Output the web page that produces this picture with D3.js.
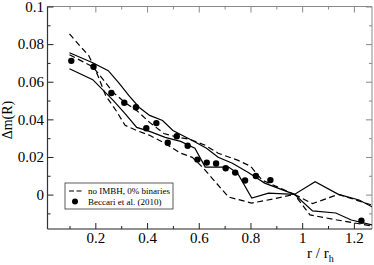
<!DOCTYPE html>
<html>
<head>
<meta charset="utf-8">
<script src="https://cdn.jsdelivr.net/npm/d3@7"></script>
<style>
  body { margin: 0; background: #fff; }
  svg text { font-family: "Liberation Serif", "DejaVu Serif", serif; fill: #000; }
</style>
</head>
<body>
<div id="chart"></div>
<script>
var svgWidth = 374;
var svgHeight = 265;

// Beccari et al. (2010) observed points
var obsR  = [0.107, 0.193, 0.262, 0.312, 0.357, 0.397, 0.436, 0.48, 0.515, 0.557,
             0.595, 0.631, 0.667, 0.704, 0.741, 0.779, 0.821, 0.877, 1.229];
var obsDm = [0.0711, 0.068, 0.054, 0.0488, 0.0464, 0.0353, 0.038, 0.0276, 0.031, 0.026,
             0.0186, 0.017, 0.0165, 0.014, 0.0117, 0.0075, 0.0099, 0.0077, -0.0139];

// solid model curves
var solidAR  = [0.10, 0.19, 0.25, 0.29, 0.33, 0.37, 0.41, 0.46, 0.50, 0.575,
                0.63, 0.675, 0.73, 0.79, 0.855, 0.97, 1.04, 1.13, 1.19, 1.27];
var solidADm = [0.0754, 0.0701, 0.0659, 0.0595, 0.0526, 0.0463, 0.0421, 0.0394, 0.0341, 0.0288,
                0.0246, 0.0198, 0.0167, 0.0119, 0.0061, 0.0001, -0.0087, -0.0098, -0.0135, -0.0161];

var solidBR  = [0.10, 0.19, 0.27, 0.315, 0.36, 0.41, 0.47, 0.53, 0.585, 0.625,
                0.715, 0.75, 0.805, 0.87, 0.97, 1.05, 1.14, 1.22, 1.27];
var solidBDm = [0.0669, 0.0611, 0.05, 0.0431, 0.0357, 0.0336, 0.0304, 0.0283, 0.0246, 0.0146,
                0.0146, 0.0114, -0.0019, 0.0008, 0.0001, 0.0068, 0.0001, -0.0029, -0.0065];

// dashed curves: no IMBH, 0% binaries
var dashAR  = [0.10, 0.14, 0.175, 0.21, 0.24, 0.28, 0.315, 0.36, 0.41, 0.47,
               0.53, 0.575, 0.615, 0.715, 0.805, 0.885, 0.97, 1.04, 1.14, 1.27];
var dashADm = [0.0854, 0.0791, 0.0738, 0.0632, 0.0526, 0.0447, 0.0368, 0.0341, 0.0315, 0.0272,
               0.022, 0.0198, 0.0145, -0.0013, -0.0045, -0.0024, 0.0001, -0.0048, 0.0001, -0.0056];

var dashBR  = [0.10, 0.19, 0.24, 0.27, 0.315, 0.36, 0.41, 0.465, 0.52, 0.565,
               0.625, 0.675, 0.75, 0.80, 0.845, 0.97, 1.03, 1.135, 1.27];
var dashBDm = [0.0743, 0.068, 0.0595, 0.0542, 0.0489, 0.0447, 0.0384, 0.0325, 0.0304, 0.0294,
               0.0262, 0.022, 0.0183, 0.0151, 0.0077, 0.0001, -0.0108, -0.0135, -0.0167];

var xMajor = [0.2, 0.4, 0.6, 0.8, 1.0, 1.2];
var xMinor = [0.1, 0.3, 0.5, 0.7, 0.9, 1.1];
var yMajor = [0, 0.02, 0.04, 0.06, 0.08, 0.1];
var yMinor = [-0.01, 0.01, 0.03, 0.05, 0.07, 0.09];

var legendLabels = ["no IMBH, 0% binaries", "Beccari et al. (2010)"];

var pLeft = 47.5, pRight = 372, pTop = 6.5, pBottom = 229;

var svg = d3.select("#chart")
    .append("svg")
    .attr("width", svgWidth)
    .attr("height", svgHeight);

var x = d3.scaleLinear().domain([0.015, 1.27]).range([pLeft, pRight]);
var y = d3.scaleLinear().domain([-0.0183, 0.1]).range([pBottom, pTop]);

svg.append("clipPath").attr("id", "clip")
    .append("rect")
    .attr("x", pLeft).attr("y", pTop)
    .attr("width", pRight - pLeft).attr("height", pBottom - pTop);

// frame: top and right lighter
svg.append("line").attr("x1", pLeft).attr("x2", pRight).attr("y1", pTop).attr("y2", pTop)
    .attr("stroke", "#8a8a8a").attr("stroke-width", 1);
svg.append("line").attr("x1", pRight).attr("x2", pRight).attr("y1", pTop).attr("y2", pBottom)
    .attr("stroke", "#8a8a8a").attr("stroke-width", 1);

function styleAxis(g, color) {
    g.select(".domain").remove();
    g.selectAll(".tick line").attr("stroke", color);
    g.selectAll("text").style("font-size", "15px").attr("font-family", "Liberation Serif");
}

// bottom axis
var gx = svg.append("g").attr("transform", `translate(0,${pBottom})`)
    .call(d3.axisBottom(x).tickValues(xMajor).tickSizeInner(-6).tickSizeOuter(0)
        .tickPadding(3).tickFormat(d3.format("~g")));
styleAxis(gx, "#222");
var gxm = svg.append("g").attr("transform", `translate(0,${pBottom})`)
    .call(d3.axisBottom(x).tickValues(xMinor).tickSizeInner(-3).tickSizeOuter(0).tickFormat(""));
styleAxis(gxm, "#222");

// top axis
var gt = svg.append("g").attr("transform", `translate(0,${pTop})`)
    .call(d3.axisTop(x).tickValues(xMajor).tickSizeInner(-6).tickSizeOuter(0).tickFormat(""));
styleAxis(gt, "#8a8a8a");
var gtm = svg.append("g").attr("transform", `translate(0,${pTop})`)
    .call(d3.axisTop(x).tickValues(xMinor).tickSizeInner(-3).tickSizeOuter(0).tickFormat(""));
styleAxis(gtm, "#8a8a8a");

// left axis
var gy = svg.append("g").attr("transform", `translate(${pLeft},0)`)
    .call(d3.axisLeft(y).tickValues(yMajor).tickSizeInner(-6).tickSizeOuter(0)
        .tickPadding(3.5).tickFormat(d3.format("~g")));
styleAxis(gy, "#222");
var gym = svg.append("g").attr("transform", `translate(${pLeft},0)`)
    .call(d3.axisLeft(y).tickValues(yMinor).tickSizeInner(-3).tickSizeOuter(0).tickFormat(""));
styleAxis(gym, "#222");

// right axis
var gr = svg.append("g").attr("transform", `translate(${pRight},0)`)
    .call(d3.axisRight(y).tickValues(yMajor).tickSizeInner(-6).tickSizeOuter(0).tickFormat(""));
styleAxis(gr, "#8a8a8a");
var grm = svg.append("g").attr("transform", `translate(${pRight},0)`)
    .call(d3.axisRight(y).tickValues(yMinor).tickSizeInner(-3).tickSizeOuter(0).tickFormat(""));
styleAxis(grm, "#8a8a8a");

svg.append("line").attr("x1", pLeft).attr("x2", pLeft).attr("y1", pTop).attr("y2", pBottom)
    .attr("stroke", "#333").attr("stroke-width", 1.2);
svg.append("line").attr("x1", pLeft).attr("x2", pRight).attr("y1", pBottom).attr("y2", pBottom)
    .attr("stroke", "#222").attr("stroke-width", 1.2);

// curves
var lineGen = d3.line().x(d => x(d[0])).y(d => y(d[1]));
var plot = svg.append("g").attr("clip-path", "url(#clip)");

var curves = [
    { r: solidAR, dm: solidADm, dash: null },
    { r: solidBR, dm: solidBDm, dash: null },
    { r: dashAR, dm: dashADm, dash: "6,3.5" },
    { r: dashBR, dm: dashBDm, dash: "6,3.5" }
];

curves.forEach(function (c) {
    var pts = c.r.map((v, i) => [v, c.dm[i]]);
    plot.append("path")
        .attr("d", lineGen(pts))
        .attr("fill", "none")
        .attr("stroke", "#000")
        .attr("stroke-width", 1.2)
        .attr("stroke-dasharray", c.dash);
});

plot.selectAll("circle.obs")
    .data(obsR.map((v, i) => [v, obsDm[i]]))
    .enter()
    .append("circle")
    .attr("class", "obs")
    .attr("cx", d => x(d[0]))
    .attr("cy", d => y(d[1]))
    .attr("r", 3.2)
    .attr("fill", "#000");

// legend
var legend = svg.append("g").attr("transform", "translate(65,183)");
legend.append("rect")
    .attr("x", 0).attr("y", 0).attr("width", 108).attr("height", 26)
    .attr("fill", "#fff").attr("stroke", "#333").attr("stroke-width", 0.8);
legend.append("line")
    .attr("x1", 4).attr("x2", 18).attr("y1", 8).attr("y2", 8)
    .attr("stroke", "#000").attr("stroke-width", 1.1).attr("stroke-dasharray", "5,2.5");
legend.append("circle").attr("cx", 10).attr("cy", 18.5).attr("r", 3).attr("fill", "#000");
legend.selectAll("text.leg")
    .data(legendLabels)
    .enter()
    .append("text")
    .attr("class", "leg")
    .attr("x", 23)
    .attr("y", (d, i) => 11 + i * 10.5)
    .style("font-size", "9px")
    .text(d => d);

// axis titles
var xt = svg.append("text").attr("x", 307).attr("y", 258).style("font-size", "15px");
xt.append("tspan").text("r / r");
xt.append("tspan").attr("dy", 4).style("font-size", "10px").text("h");

svg.append("text")
    .attr("transform", "translate(12,120) rotate(-90)")
    .attr("text-anchor", "middle")
    .style("font-size", "14px")
    .text("\u0394m(R)");
</script>
</body>
</html>
